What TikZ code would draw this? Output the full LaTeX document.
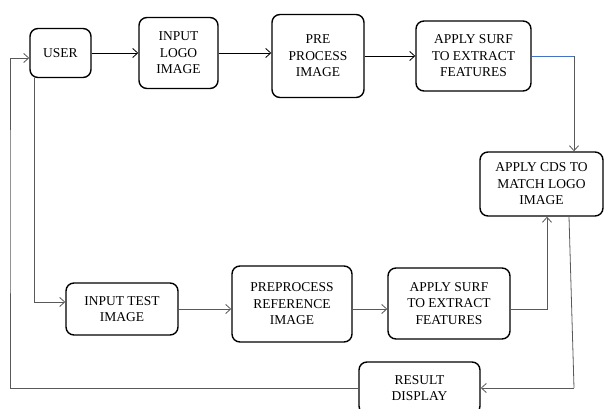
\documentclass[tikz,border=0pt]{standalone}
\usepackage{fontspec}
\setmainfont{Liberation Serif}
\usetikzlibrary{arrows.meta}
\begin{document}
\begin{tikzpicture}[x=1pt,y=-1pt,
  box/.style={draw=black,line width=1.4pt,rounded corners=8pt,align=center,
    font=\fontsize{13.5}{16.5}\selectfont,inner sep=0pt},
  arr/.style={line width=0.8pt,-{Straight Barb[length=5pt,width=9pt]}},
  garr/.style={arr,draw=black!65},
  gline/.style={line width=0.8pt,draw=black!65}]
\clip (0,0) rectangle (605,409);
\fill[white] (0,0) rectangle (605,409);
\node[box,minimum width=61pt,minimum height=49pt] (user) at (60.5,53) {USER};
\node[box,minimum width=79pt,minimum height=71pt] (logo) at (178.5,53) {INPUT\\LOGO\\IMAGE};
\node[box,minimum width=92pt,minimum height=83pt] (pre) at (318,56) {PRE\\PROCESS\\IMAGE};
\node[box,minimum width=115pt,minimum height=70pt] (surfa) at (473.5,56) {APPLY SURF\\TO EXTRACT\\FEATURES};
\node[box,minimum width=123pt,minimum height=64pt] (cds) at (541.5,184) {APPLY CDS TO\\MATCH LOGO\\IMAGE};
\node[box,minimum width=112pt,minimum height=52pt] (test) at (122,309) {INPUT TEST\\IMAGE};
\node[box,minimum width=120pt,minimum height=76pt] (prep) at (292,304) {PREPROCESS\\REFERENCE\\IMAGE};
\node[box,minimum width=122pt,minimum height=71pt] (surfb) at (449,303.5) {APPLY SURF\\TO EXTRACT\\FEATURES};
\node[box,minimum width=121pt,minimum height=52pt] (res) at (419.5,388) {RESULT\\DISPLAY};
\coordinate (c1) at (574,56);
\coordinate (c2) at (547,300);
\coordinate (c3) at (569,300);
\coordinate (c3b) at (574,388);
\coordinate (c4) at (10,200);
\coordinate (c5) at (34,200);
\draw[arr] (user) -- (logo);
\draw[arr] (logo) -- (logo -| pre.west);
\draw[arr] (pre) -- (surfa);
\draw[line width=0.8pt,draw={rgb,255:red,68;green,114;blue,196}] (surfa.east) -- (c1);
\draw[garr] (c1) -- (c1 |- cds.north);
\draw[garr] (surfb.east |- test.east) -| (c2 |- cds.south);
\draw[gline] (c3 |- cds.south) -- (c3b);
\draw[garr] (c3b) -- (res.east);
\draw[garr] (res.west) -| (c4) |- ([yshift=-5pt]user.west);
\draw[garr] (c5 |- user.south) |- ([yshift=7pt]test.west);
\draw[garr] (test.east) -- (test.east -| prep.west);
\draw[garr] (prep.east |- test.east) -- (test.east -| surfb.west);
\end{tikzpicture}
\end{document}
